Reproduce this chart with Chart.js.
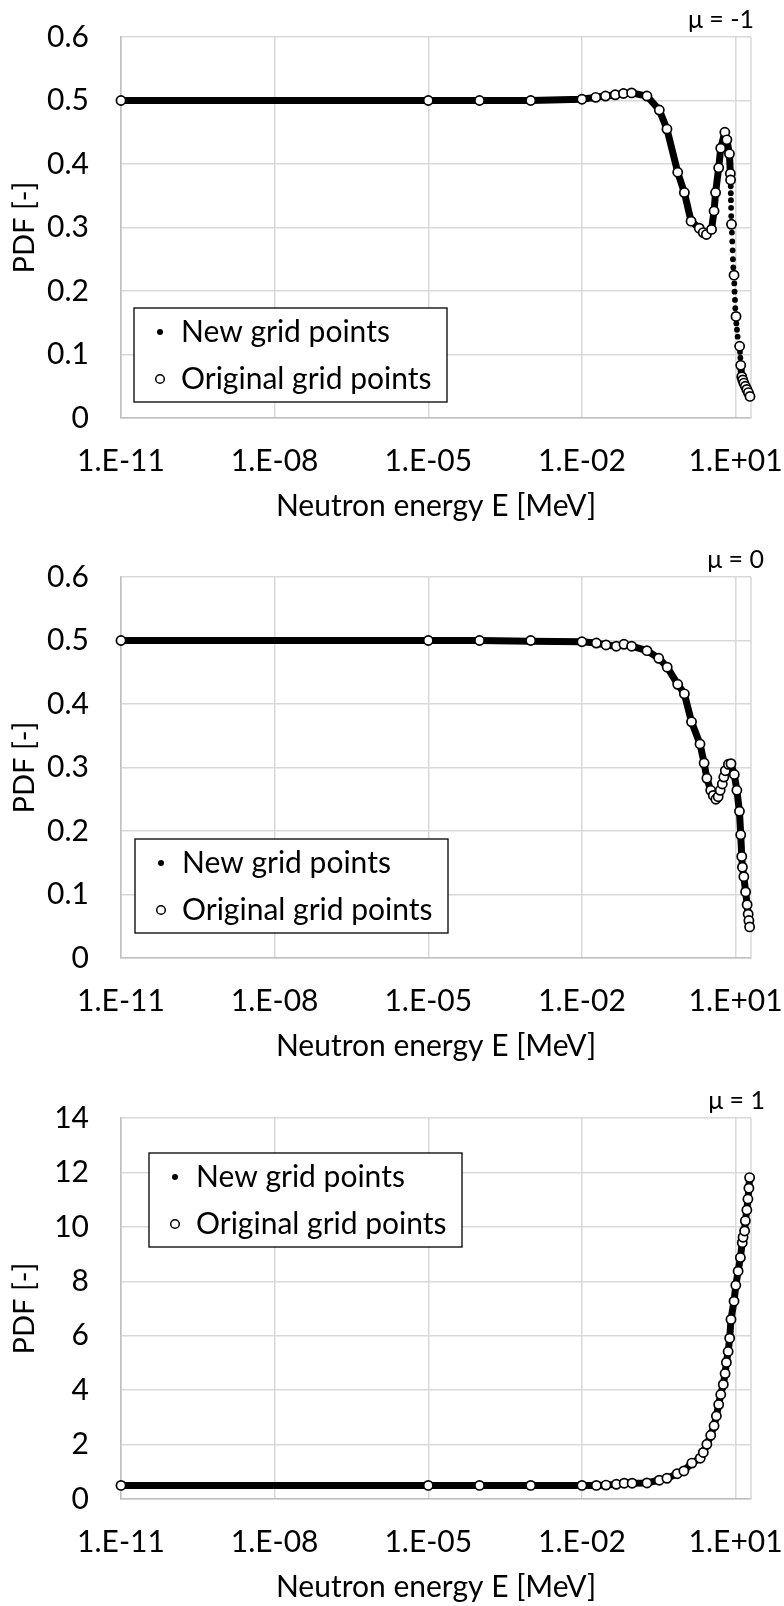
<!DOCTYPE html>
<html>
<head>
<meta charset="utf-8">
<script src="https://cdn.jsdelivr.net/npm/chart.js@4.4.1/dist/chart.umd.min.js"></script>
<style>
  html, body { margin: 0; padding: 0; background: #fff; overflow: hidden; }
  body { width: 784px; height: 1606px; position: relative; }
  canvas { position: absolute; left: 0; }
</style>
</head>
<body>
<canvas id="chart1" width="784" height="540" style="top:0px"></canvas>
<canvas id="chart2" width="784" height="540" style="top:540px"></canvas>
<canvas id="chart3" width="784" height="540" style="top:1081px"></canvas>
<script>
// --- Axis ticks ---
const xTickValues = [1e-11, 1e-8, 1e-5, 1e-2, 1e1];
const xTickLabels = ['1.E-11', '1.E-08', '1.E-05', '1.E-02', '1.E+01'];

// --- mu = -1 ---
const p1OrigE   = [1e-11, 1e-5, 1e-4, 1e-3, 0.01, 0.0186, 0.0288, 0.0447, 0.0646, 0.0933, 0.186, 0.324, 0.457, 0.741, 1.0, 1.35, 1.95, 2.34, 2.69, 3.39, 3.80, 4.07, 4.68, 5.13, 6.17, 6.76, 7.59, 7.9, 8.0, 8.32, 9.33, 10.2, 12.0, 12.6, 13.2, 13.8, 14.5, 15.5, 16.6, 17.8, 19.1];
const p1OrigPdf = [0.5, 0.5, 0.5, 0.5, 0.502, 0.505, 0.507, 0.509, 0.511, 0.512, 0.507, 0.485, 0.455, 0.387, 0.355, 0.31, 0.299, 0.292, 0.289, 0.297, 0.326, 0.355, 0.394, 0.425, 0.45, 0.438, 0.416, 0.385, 0.375, 0.305, 0.225, 0.16, 0.113, 0.083, 0.065, 0.060, 0.055, 0.050, 0.045, 0.040, 0.034];
const p1NewE    = [1e-11, 1e-8, 1e-5, 1e-4, 1e-3, 0.01, 0.0186, 0.0288, 0.0447, 0.0646, 0.0933, 0.186, 0.324, 0.457, 0.741, 1.0, 1.35, 1.95, 2.34, 2.69, 3.39, 3.80, 4.07, 4.68, 5.13, 6.17, 6.76, 7.59, 7.9, 8.0, null, 12.6, 13.2, 13.8, 14.5, 15.5, 16.6, 17.8, 19.1];
const p1NewPdf  = [0.5, 0.5, 0.5, 0.5, 0.5, 0.502, 0.505, 0.507, 0.509, 0.511, 0.512, 0.507, 0.485, 0.455, 0.387, 0.355, 0.31, 0.299, 0.292, 0.289, 0.297, 0.326, 0.355, 0.394, 0.425, 0.45, 0.438, 0.416, 0.385, 0.375, null, 0.083, 0.065, 0.060, 0.055, 0.050, 0.045, 0.040, 0.034];
// new grid points on the steep drop, where they stand apart
const p1SparseE   = [8.04, 8.07, 8.11, 8.17, 8.22, 8.47, 8.61, 8.75, 8.87, 9.02, 9.44, 9.55, 9.73, 9.86, 10.35, 10.64, 10.96, 12.2, 12.4];
const p1SparsePdf = [0.365, 0.354, 0.343, 0.331, 0.318, 0.292, 0.278, 0.264, 0.250, 0.237, 0.212, 0.199, 0.186, 0.173, 0.149, 0.139, 0.128, 0.104, 0.095];

// --- mu = 0 ---
const p2OrigE   = [1e-11, 1e-5, 1e-4, 1e-3, 0.01, 0.0191, 0.0295, 0.0468, 0.0661, 0.0933, 0.186, 0.316, 0.462, 0.741, 1.0, 1.38, 2.02, 2.43, 2.75, 3.27, 3.67, 4.12, 4.57, 5.01, 5.50, 5.89, 6.31, 7.24, 8.13, 9.44, 10.6, 11.9, 12.6, 13.2, 13.6, 14.5, 15.7, 16.8, 17.6, 18.2, 18.8];
const p2OrigPdf = [0.5, 0.5, 0.5, 0.5, 0.498, 0.496, 0.493, 0.491, 0.494, 0.491, 0.484, 0.472, 0.458, 0.431, 0.416, 0.372, 0.337, 0.307, 0.283, 0.264, 0.256, 0.250, 0.254, 0.264, 0.274, 0.285, 0.295, 0.305, 0.306, 0.289, 0.264, 0.231, 0.194, 0.160, 0.143, 0.128, 0.104, 0.084, 0.069, 0.059, 0.049];
const p2NewE    = [1e-11, 1e-8, 1e-5, 1e-4, 1e-3, 0.01, 0.0191, 0.0295, 0.0468, 0.0661, 0.0933, 0.186, 0.316, 0.462, 0.741, 1.0, 1.38, 2.02, 2.43, 2.75, 3.27, 3.67, 4.12, 4.57, 5.01, 5.50, 5.89, 6.31, 7.24, 8.13, 9.44, 10.6, 11.9, 12.6, 13.2, 13.6, 14.5, 15.7, 16.8, 17.6, 18.2, 18.8];
const p2NewPdf  = [0.5, 0.5, 0.5, 0.5, 0.499, 0.498, 0.496, 0.493, 0.491, 0.494, 0.491, 0.484, 0.472, 0.458, 0.431, 0.416, 0.372, 0.337, 0.307, 0.283, 0.264, 0.256, 0.250, 0.254, 0.264, 0.274, 0.285, 0.295, 0.305, 0.306, 0.289, 0.264, 0.231, 0.194, 0.160, 0.143, 0.128, 0.104, 0.084, 0.069, 0.059, 0.049];

// --- mu = 1 ---
const p3OrigE   = [1e-11, 1e-5, 1e-4, 1e-3, 0.01, 0.0191, 0.0295, 0.0468, 0.0668, 0.0955, 0.186, 0.324, 0.457, 0.724, 0.977, 1.40, 2.04, 2.34, 2.75, 3.27, 3.80, 4.22, 4.68, 5.13, 5.75, 6.24, 6.61, 7.16, 7.67, 8.13, 9.33, 10.1, 11.2, 12.4, 13.5, 14.0, 15.0, 15.5, 16.6, 17.4, 18.2, 18.8];
const p3OrigPdf = [0.5, 0.5, 0.5, 0.5, 0.5, 0.5, 0.51, 0.54, 0.58, 0.58, 0.59, 0.69, 0.76, 0.93, 1.03, 1.32, 1.50, 1.71, 2.01, 2.34, 2.69, 3.05, 3.47, 3.84, 4.21, 4.61, 5.02, 5.42, 5.91, 6.60, 7.27, 7.85, 8.37, 8.87, 9.42, 9.62, 9.85, 10.22, 10.62, 11.02, 11.42, 11.81];
const p3NewE    = [1e-11, 1e-8, 1e-5, 1e-4, 1e-3, 0.01, 0.0191, 0.0295, 0.0468, 0.0668, 0.0955, 0.186, 0.324, 0.457, 0.724, 0.977, 1.40, 2.04, 2.34, 2.75, 3.27, 3.80, 4.22, 4.68, 5.13, 5.75, 6.24, 6.61, 7.16, 7.67, 8.13, 9.33, 10.1, 11.2, 12.4, 13.5, 14.0, 15.0, 15.5, 16.6, 17.4, 18.2, 18.8];
const p3NewPdf  = [0.5, 0.5, 0.5, 0.5, 0.5, 0.5, 0.5, 0.51, 0.54, 0.58, 0.58, 0.59, 0.69, 0.76, 0.93, 1.03, 1.32, 1.50, 1.71, 2.01, 2.34, 2.69, 3.05, 3.47, 3.84, 4.21, 4.61, 5.02, 5.42, 5.91, 6.60, 7.27, 7.85, 8.37, 8.87, 9.42, 9.62, 9.85, 10.22, 10.62, 11.02, 11.42, 11.81];

const FONT = 'Lato';

function zip(xs, ys) {
    return xs.map((x, i) => ({ x: x, y: ys[i] }));
}

// Frame, legend box and the mu label, drawn by hand
const panelDecor = {
    id: 'panelDecor',
    beforeDatasetsDraw(chart) {
        const { ctx, chartArea: ca } = chart;
        ctx.save();
        ctx.strokeStyle = '#d9d9d9';
        ctx.lineWidth = 1.5;
        ctx.beginPath();
        ctx.moveTo(ca.right, ca.top);
        ctx.lineTo(ca.right, ca.bottom);
        ctx.stroke();
        ctx.restore();
    },
    afterDraw(chart, args, opts) {
        const { ctx, chartArea: ca } = chart;
        ctx.save();
        // legend
        const lx = ca.left + opts.legendDx, ly = ca.top + opts.legendDy;
        const w = 313, h = 94;
        ctx.fillStyle = '#fff';
        ctx.fillRect(lx, ly, w, h);
        ctx.strokeStyle = '#000';
        ctx.lineWidth = 1.3;
        ctx.strokeRect(lx, ly, w, h);
        const mx = lx + 26, tx = lx + 47;
        const r1 = ly + 24, r2 = ly + 71;
        ctx.fillStyle = '#000';
        ctx.beginPath();
        ctx.arc(mx, r1, 3, 0, Math.PI * 2);
        ctx.fill();
        ctx.beginPath();
        ctx.arc(mx, r2, 4.3, 0, Math.PI * 2);
        ctx.fillStyle = '#fff';
        ctx.fill();
        ctx.lineWidth = 1.5;
        ctx.stroke();
        ctx.fillStyle = '#000';
        ctx.font = '30px ' + FONT;
        ctx.textAlign = 'left';
        ctx.textBaseline = 'middle';
        ctx.fillText('New grid points', tx, r1);
        ctx.fillText('Original grid points', tx, r2);
        // title
        ctx.font = '25px ' + FONT;
        ctx.textAlign = 'right';
        ctx.fillText(opts.title, opts.titleRight, ca.top - 17);
        ctx.restore();
    }
};

function makeChart(id, cfg) {
    const axisFont = { family: FONT, size: 30, lineHeight: 1 };
    return new Chart(document.getElementById(id), {
        type: 'scatter',
        data: {
            datasets: [
                {
                    label: 'Original grid points',
                    data: zip(cfg.origE, cfg.origPdf),
                    showLine: false,
                    pointRadius: 4.6,
                    pointBorderWidth: 1.7,
                    pointBorderColor: '#000',
                    pointBackgroundColor: '#fff',
                    clip: false,
                    order: 0
                },
                {
                    label: 'New grid points',
                    data: zip(cfg.newE, cfg.newPdf),
                    showLine: true,
                    spanGaps: false,
                    borderColor: '#000',
                    borderWidth: 7,
                    borderJoinStyle: 'round',
                    borderCapStyle: 'round',
                    pointRadius: 0,
                    clip: false,
                    order: 1
                },
                {
                    label: 'New grid points ',
                    data: zip(cfg.sparseE || [], cfg.sparsePdf || []),
                    showLine: false,
                    pointRadius: 2.9,
                    pointBorderWidth: 0,
                    pointBackgroundColor: '#000',
                    clip: false,
                    order: 1
                }
            ]
        },
        options: {
            responsive: false,
            animation: false,
            events: [],
            layout: { padding: { top: 37, right: 33, bottom: 0, left: 0 } },
            plugins: {
                legend: { display: false },
                tooltip: { enabled: false },
                panelDecor: { title: cfg.title, titleRight: cfg.titleRight, legendDx: cfg.legendDx, legendDy: cfg.legendDy }
            },
            scales: {
                x: {
                    type: 'logarithmic',
                    min: 1e-11,
                    max: 20,
                    afterBuildTicks: s => { s.ticks = xTickValues.map(v => ({ value: v })); },
                    afterFit: s => { s.height = 122; },
                    // invisible tick marks carry the label gap
                    grid: { color: '#d9d9d9', lineWidth: 1.5, tickLength: 28, tickColor: 'rgba(0,0,0,0)' },
                    border: { color: '#bfbfbf', width: 1.5 },
                    ticks: {
                        autoSkip: false,
                        maxRotation: 0,
                        padding: 0,
                        color: '#000',
                        font: axisFont,
                        callback: (v, i) => xTickLabels[i]
                    },
                    title: {
                        display: true,
                        text: 'Neutron energy E [MeV]',
                        color: '#000',
                        font: axisFont,
                        padding: { top: 0, bottom: 19 }
                    }
                },
                y: {
                    min: 0,
                    max: cfg.yMax,
                    afterFit: s => { s.width = 121; },
                    grid: { color: '#d9d9d9', lineWidth: 1.5, tickLength: 32, tickColor: 'rgba(0,0,0,0)' },
                    border: { color: '#bfbfbf', width: 1.5 },
                    ticks: { stepSize: cfg.yStep, padding: 0, color: '#000', font: axisFont },
                    title: {
                        display: true,
                        text: 'PDF [-]',
                        color: '#000',
                        font: { family: FONT, size: 29, lineHeight: 1 },
                        padding: { top: 10, bottom: 0 }
                    }
                }
            }
        },
        plugins: [panelDecor]
    });
}

makeChart('chart1', {
    origE: p1OrigE, origPdf: p1OrigPdf, newE: p1NewE, newPdf: p1NewPdf,
    sparseE: p1SparseE, sparsePdf: p1SparsePdf,
    yMax: 0.6, yStep: 0.1, title: 'μ = -1', titleRight: 754, legendDx: 13, legendDy: 271
});
makeChart('chart2', {
    origE: p2OrigE, origPdf: p2OrigPdf, newE: p2NewE, newPdf: p2NewPdf,
    yMax: 0.6, yStep: 0.1, title: 'μ = 0', titleRight: 764, legendDx: 14, legendDy: 262
});
makeChart('chart3', {
    origE: p3OrigE, origPdf: p3OrigPdf, newE: p3NewE, newPdf: p3NewPdf,
    yMax: 14, yStep: 2, title: 'μ = 1', titleRight: 765, legendDx: 28, legendDy: 35
});
</script>
</body>
</html>
